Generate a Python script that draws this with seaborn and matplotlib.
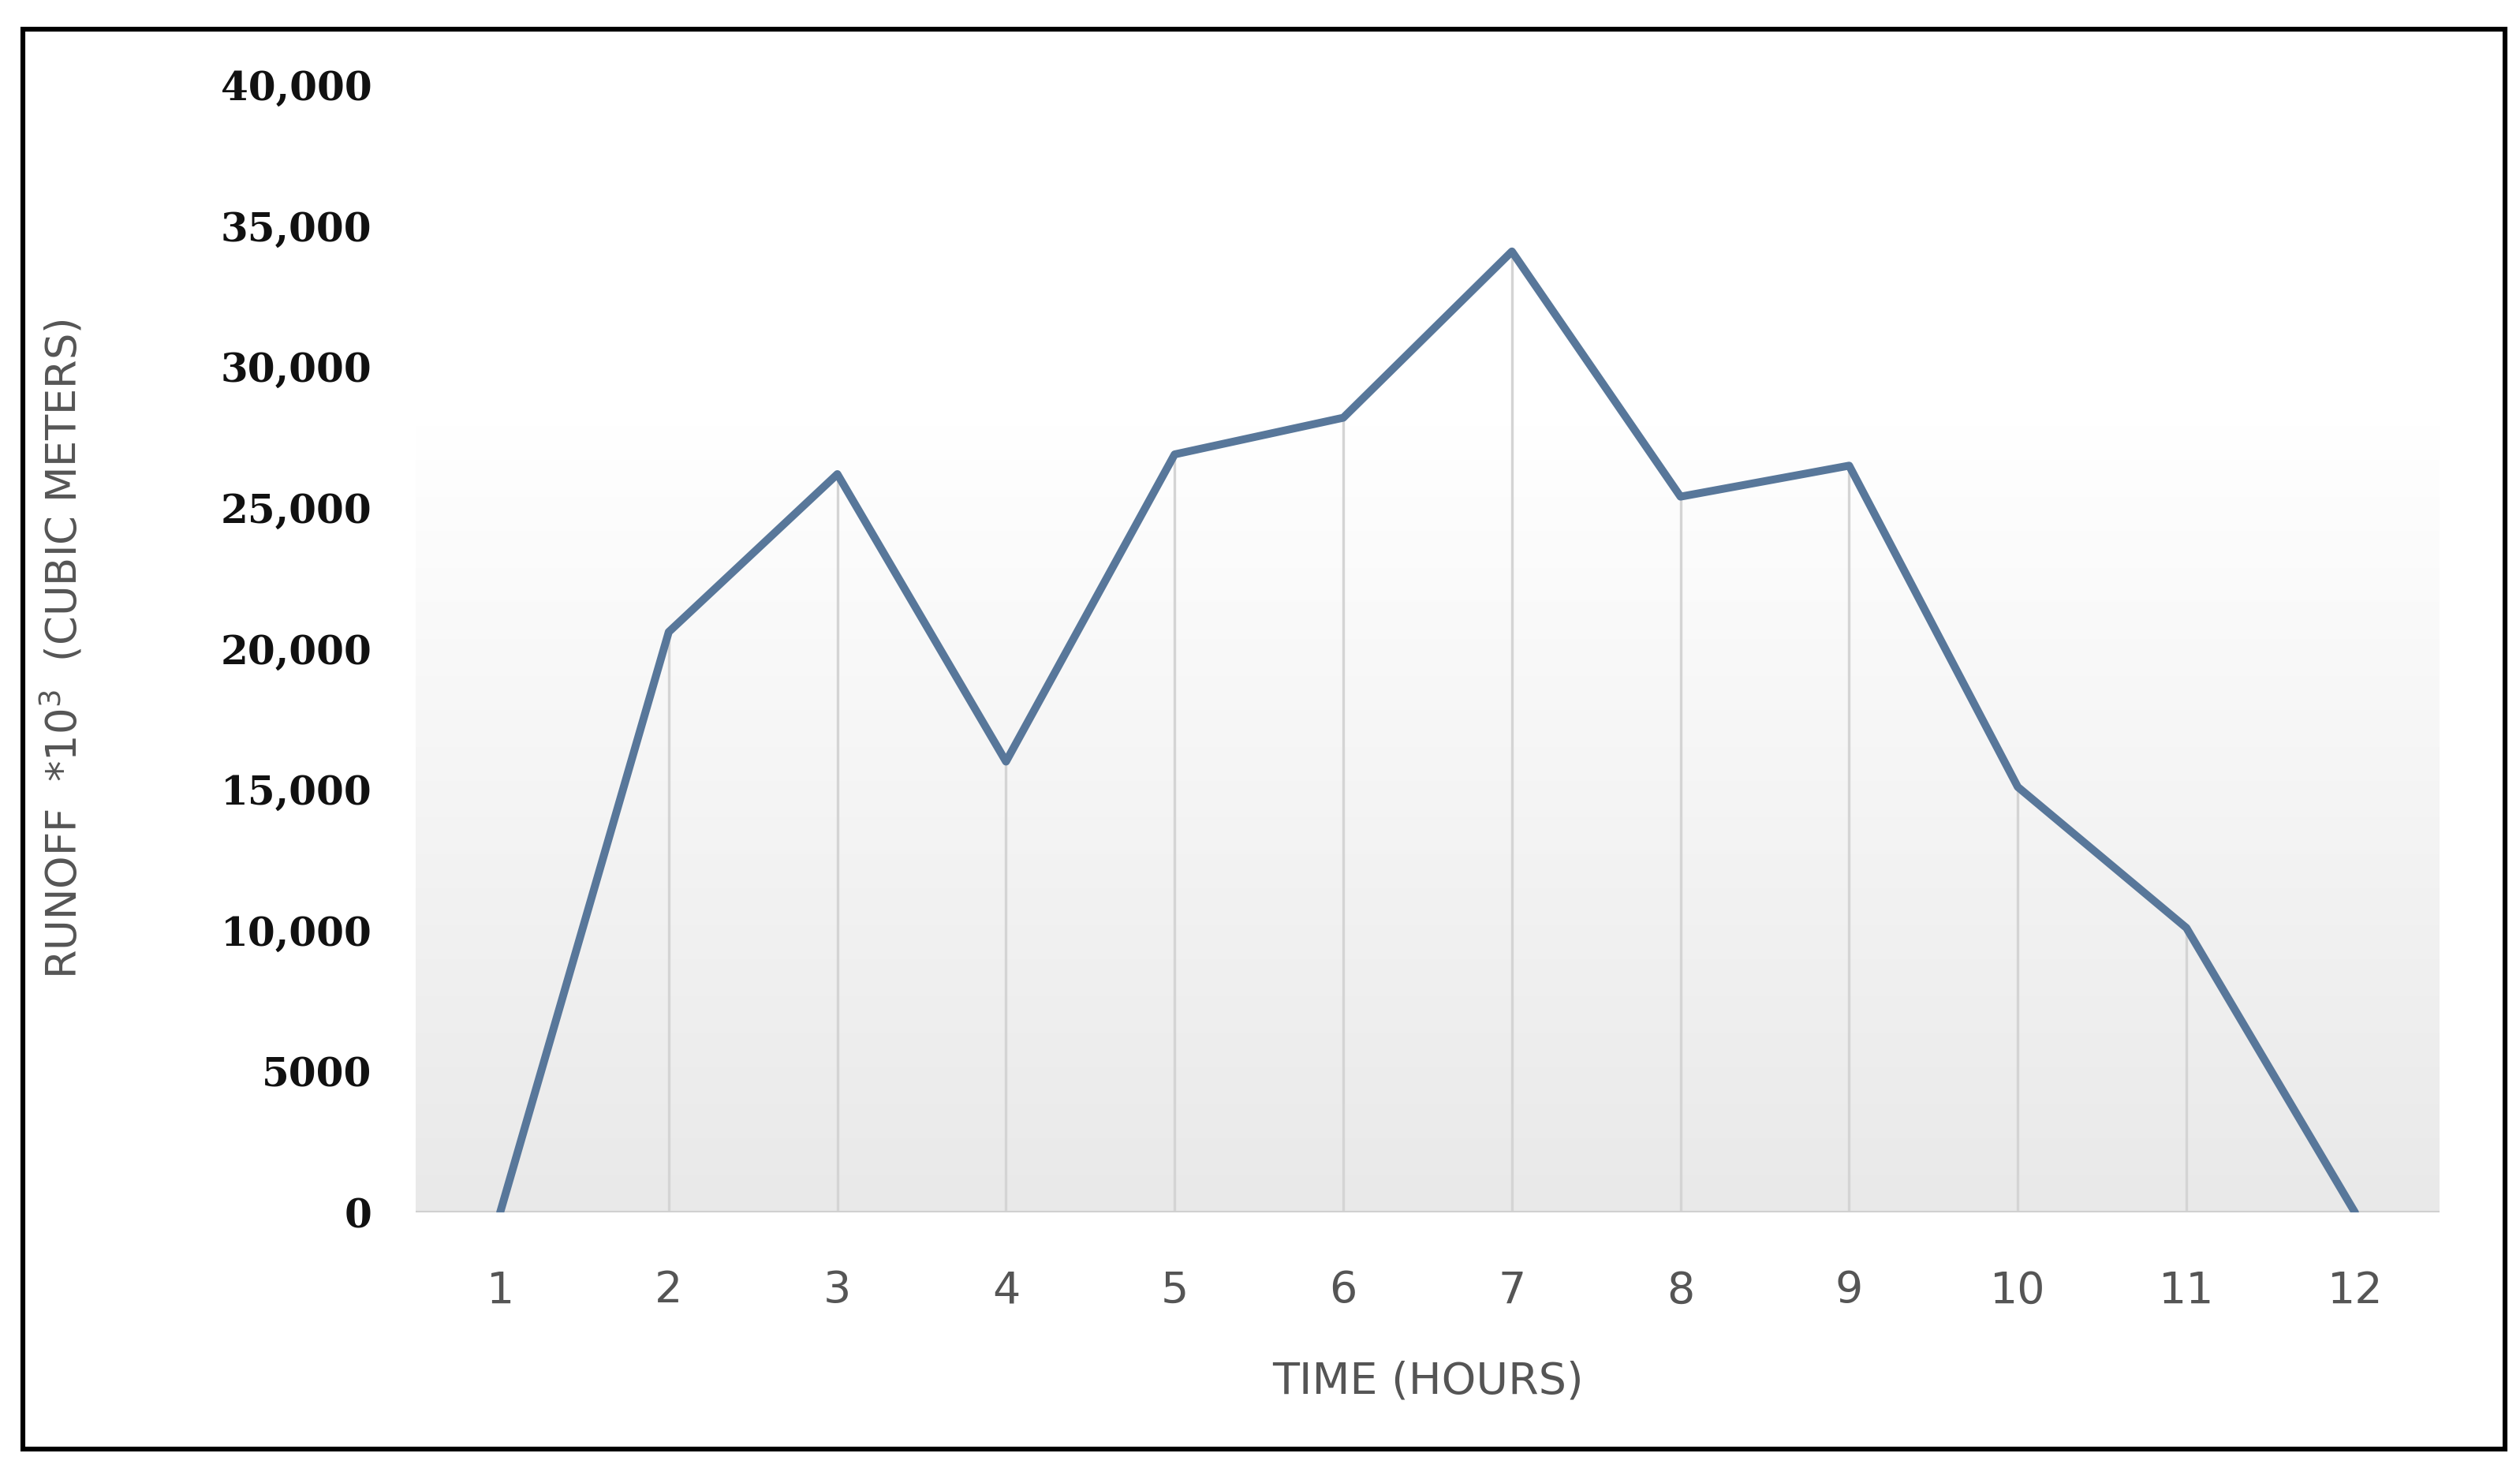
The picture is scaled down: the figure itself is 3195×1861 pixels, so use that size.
import numpy as np
import pandas as pd
import matplotlib
matplotlib.use("Agg")
import matplotlib.pyplot as plt
import seaborn as sns
from matplotlib.patches import Rectangle

hours = [1, 2, 3, 4, 5, 6, 7, 8, 9, 10, 11, 12]
runoff = [0, 20600, 26200, 16000, 26900, 28200, 34100, 25400, 26500, 15100, 10100, 0]
y_ticks = [0, 5000, 10000, 15000, 20000, 25000, 30000, 35000, 40000]
y_tick_labels = ['0', '5000', '10,000', '15,000', '20,000', '25,000', '30,000', '35,000', '40,000']

sns.set_style('white')
df = pd.DataFrame({'hour': hours, 'runoff': runoff})

fig = plt.figure(figsize=(15.975, 9.305), dpi=200)
ax = fig.add_axes([0.165, 0.174, 0.803, 0.768])

# soft gradient background like the spreadsheet chart
grad = np.linspace(0, 1, 256).reshape(-1, 1)
ax.imshow(grad, extent=[0.5, 12.5, 0, 28000], aspect='auto', origin='upper',
          cmap=matplotlib.colors.LinearSegmentedColormap.from_list('g', ['#ffffff', '#e9e9e9']),
          zorder=0)

for h, v in zip(hours, runoff):
    ax.plot([h, h], [0, v], color='#d4d4d4', lw=1.2, zorder=1)

sns.lineplot(data=df, x='hour', y='runoff', ax=ax, color='#58779a', lw=3.6, zorder=3)
ax.axhline(0, color='#d0d0d0', lw=1.5, zorder=2)

ax.set_xlim(0.5, 12.5)
ax.set_ylim(0, 40000)
ax.set_xticks(hours)
ax.set_xticklabels([str(h) for h in hours], color='#555555', fontsize=20)
ax.set_yticks(y_ticks)
ax.set_yticklabels(y_tick_labels, family='DejaVu Serif', fontweight='bold', fontsize=18, color='#111111')
ax.tick_params(axis='y', length=0, pad=20)
ax.tick_params(axis='x', length=0, pad=26)
for s in ax.spines.values():
    s.set_visible(False)

ax.set_xlabel('TIME (HOURS)', color='#555555', fontsize=20, labelpad=22)
ax.set_ylabel(r'RUNOFF  *10$^3$  (CUBIC METERS)', color='#555555', fontsize=19)
ax.yaxis.set_label_coords(-0.163, 0.5)

fig.patches.append(Rectangle((0.009, 0.013), 0.985, 0.967, transform=fig.transFigure,
                             fill=False, edgecolor='black', lw=2.2))

fig.savefig('out.png', dpi=200)
